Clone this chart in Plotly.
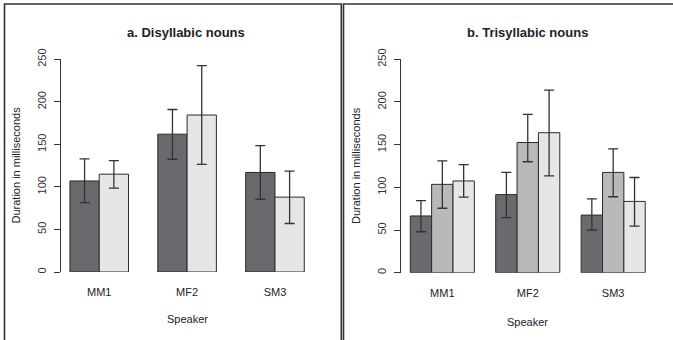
import plotly.graph_objects as go

W, H = 673, 340

speakers = ["MM1", "MF2", "SM3"]

# Panel a: Disyllabic nouns (2 series)
di_names = ["Series 1", "Series 2"]
di_means = [[107, 162, 117], [115, 184.5, 88]]
di_upper = [[133, 191, 148.5], [131, 242.5, 118.5]]
di_lower = [[81.5, 132.5, 85.5], [98.5, 126.5, 57]]

# Panel b: Trisyllabic nouns (3 series)
tri_names = ["Series 1", "Series 2", "Series 3"]
tri_means = [[66.5, 91.5, 67.5], [103.5, 152.5, 117.5], [107.5, 164, 83.5]]
tri_upper = [[84.5, 117.5, 86.5], [131, 185.5, 145], [126.5, 214, 111.5]]
tri_lower = [[48, 64.5, 50], [75.5, 130, 89], [88.5, 113.5, 54.5]]

y_ticks = [0, 50, 100, 150, 200, 250]

di_colors = ["#6a6a6e", "#e6e6e8"]
tri_colors = ["#6a6a6e", "#b9b9bc", "#e6e6e8"]

FONT = "Liberation Sans, Arial, Helvetica, sans-serif"
LINE = "#2a2a2a"

fig = go.Figure()


def add_panel(means, upper, lower, colors, names, xa, ya):
    n = len(means)
    w = 1.0 / (n + 1)
    for i in range(n):
        err_plus = [u - m for u, m in zip(upper[i], means[i])]
        err_minus = [m - l for m, l in zip(means[i], lower[i])]
        fig.add_trace(go.Bar(
            x=speakers, y=means[i], name=names[i],
            width=w, offset=-n * w / 2 + i * w,
            marker=dict(color=colors[i], line=dict(color=LINE, width=1)),
            error_y=dict(type="data", symmetric=False, array=err_plus,
                         arrayminus=err_minus, color="#333333",
                         thickness=1.3, width=5),
            xaxis=xa, yaxis=ya, showlegend=False,
        ))


add_panel(di_means, di_upper, di_lower, di_colors, di_names, "x", "y")
add_panel(tri_means, tri_upper, tri_lower, tri_colors, tri_names, "x2", "y2")


def px_x(p):
    return p / W


def px_y(p):
    return 1 - p / H


axis_common_x = dict(
    type="category", range=[-0.5, 2.5], showline=False, showgrid=False,
    zeroline=False, ticks="", tickfont=dict(family=FONT, size=11, color="#222"),
    ticklabelstandoff=12,
)
axis_common_y = dict(
    range=[0, 250], tickvals=y_ticks, ticktext=[str(v) for v in y_ticks],
    showline=True, linecolor="#333", linewidth=1, ticks="outside",
    ticklen=6, tickcolor="#333", tickwidth=1, showgrid=False, zeroline=False,
    tickangle=-90, tickfont=dict(family=FONT, size=11, color="#333"),
    anchor="free", ticklabelstandoff=4,
)

fig.update_layout(
    width=W, height=H,
    margin=dict(l=0, r=0, t=0, b=0, pad=0, autoexpand=False),
    paper_bgcolor="white", plot_bgcolor="white", barmode="overlay",
    xaxis=dict(axis_common_x, domain=[px_x(55.3), px_x(318.9)], anchor="y",
               automargin=False),
    yaxis=dict(axis_common_y, domain=[px_y(272), px_y(59.3)],
               position=px_x(60.3), automargin=False),
    xaxis2=dict(axis_common_x, domain=[px_x(399.6), px_x(655.9)], anchor="y2",
                automargin=False),
    yaxis2=dict(axis_common_y, domain=[px_y(272.7), px_y(59.3)],
                position=px_x(400.3), automargin=False),
)

annots = [
    dict(text="<b>a. Disyllabic nouns</b>", x=px_x(186.4), y=px_y(32.5), size=13),
    dict(text="<b>b. Trisyllabic nouns</b>", x=px_x(527.3), y=px_y(32.5), size=13),
    dict(text="Speaker", x=px_x(187.7), y=px_y(319.3), size=11),
    dict(text="Speaker", x=px_x(527.7), y=px_y(321.5), size=11),
    dict(text="Duration in milliseconds", x=px_x(15), y=px_y(165.5), size=11, angle=-90),
    dict(text="Duration in milliseconds", x=px_x(356), y=px_y(166), size=11, angle=-90),
]
for a in annots:
    fig.add_annotation(
        text=a["text"], x=a["x"], y=a["y"], xref="paper", yref="paper",
        xanchor="center", yanchor="middle", showarrow=False,
        textangle=a.get("angle", 0),
        font=dict(family=FONT, size=a["size"], color="#222"),
    )

# panel frames
fig.add_shape(type="rect", xref="paper", yref="paper",
              x0=px_x(4.5), x1=px_x(341.3), y0=-0.2, y1=px_y(4),
              line=dict(color="#333", width=1.6), layer="above")
fig.add_shape(type="rect", xref="paper", yref="paper",
              x0=px_x(343.5), x1=1.2, y0=-0.2, y1=px_y(4),
              line=dict(color="#333", width=1.6), layer="above")

fig.write_html("out.html")
